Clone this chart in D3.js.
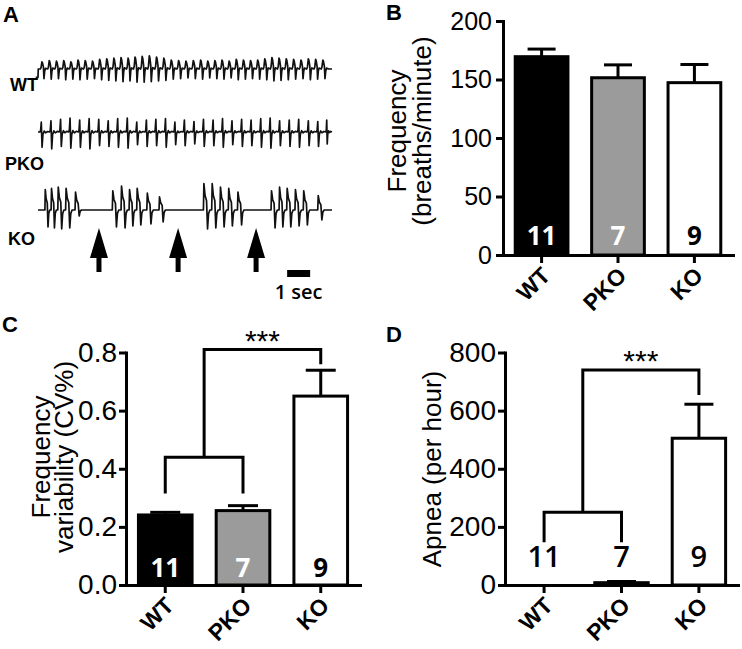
<!DOCTYPE html>
<html><head><meta charset="utf-8">
<script src="https://cdn.jsdelivr.net/npm/d3@7"></script>
<style>body{margin:0;background:#fff}svg{display:block}</style>
</head><body>
<svg id="chart" width="742" height="649"></svg>
<script>
// ---------------- DATA ----------------
const groups = ["WT", "PKO", "KO"];
const barColors = ["#000000", "#9b9b9b", "#ffffff"];
const nLabels = ["11", "7", "9"];

// B: breathing frequency (breaths/minute)
const freqMean = [169.5, 151.5, 147.3];
const freqErr = [6.5, 11.0, 15.5];
const freqTicks = [0, 50, 100, 150, 200];

// C: frequency variability (CV%)
const cvMean = [0.241, 0.256, 0.650];
const cvErr = [0.009, 0.017, 0.089];
const cvTicks = [0, 0.2, 0.4, 0.6, 0.8];
const cvBracket = [0.44, 0.315, 0.81, 0.76]; // lower bar, lower legs, top bar, right leg

// D: apnea (per hour)
const apneaMean = [0, 8, 505];
const apneaErr = [0, 4, 117];
const apneaTicks = [0, 200, 400, 600, 800];
const apneaBracket = [250, 147, 740, 654];

// A: breathing traces (time in s; peak / trough amplitudes, relative)
const traceEnd = 12.78;
const wtLeadIn = [[-0.1, -0.7], [0.0, -0.7], [0.01, 0]];
const wtTimes = [0.10,0.42,0.73,1.05,1.36,1.67,1.98,2.30,2.61,2.92,3.23,3.54,3.85,4.15,4.46,4.77,5.08,5.40,5.72,6.04,6.36,6.68,7.00,7.31,7.62,7.93,8.24,8.55,8.86,9.17,9.48,9.79,10.10,10.41,10.72,11.04,11.36,11.68,12.00,12.31];
const wtPeaks = [0.6,0.7,0.65,0.7,0.6,0.75,0.7,0.65,0.8,0.85,0.9,0.95,0.9,1.0,1.05,1.1,1.0,0.9,0.75,0.7,0.65,0.7,0.75,0.65,0.7,0.75,0.65,0.8,0.75,0.7,0.75,0.85,0.95,0.9,0.85,0.8,0.75,0.85,0.8,0.75];
const wtTroughs = [0.8,0.85,0.8,0.9,0.85,0.9,0.85,0.8,0.9,0.95,1.0,1.05,1.0,1.1,1.1,1.05,1.0,0.95,0.85,0.8,0.75,0.8,0.85,0.75,0.8,0.85,0.75,0.9,0.85,0.8,0.85,0.9,1.0,0.95,0.9,0.85,0.8,0.9,0.85,0.8];
const pkoTimes = [0.08,0.50,0.92,1.33,1.75,2.16,2.58,2.99,3.40,3.82,4.23,4.65,5.06,5.48,5.89,6.30,6.72,7.13,7.55,7.96,8.37,8.79,9.20,9.62,10.03,10.44,10.86,11.27,11.69,12.10,12.51];
const pkoPeaks = [0.7,0.8,0.9,1.0,0.85,0.95,0.9,0.8,0.95,1.0,0.7,0.85,0.9,0.95,0.7,0.85,0.75,0.9,0.85,0.95,0.8,0.9,0.85,0.95,1.0,0.8,0.85,0.9,0.8,0.75,0.85];
const pkoTroughs = [0.9,1.0,0.85,0.95,0.9,1.0,0.8,0.85,0.9,0.95,0.75,0.85,0.8,0.9,0.75,0.8,0.7,0.85,0.8,0.9,0.75,0.85,0.8,0.9,0.95,0.8,0.85,0.9,0.8,0.85,0.7];
const koTimes = [0.30,0.57,0.86,1.20,1.61, 3.23,3.61,3.96,4.29,4.73,5.26, 7.19,7.55,7.91,8.27,8.67, 10.13,10.48,10.81,11.17,11.53,12.16];
const koPeaks = [0.85,0.9,0.95,0.9,0.75, 0.8,1.0,0.85,0.9,0.7,0.55, 1.1,1.1,0.95,0.9,0.75, 0.8,0.95,0.9,0.85,0.8,0.6];
const koTroughs = [0.85,0.9,0.95,0.9,0.3, 0.85,0.9,0.8,0.75,0.7,0.6, 0.95,0.9,0.85,0.8,0.75, 0.9,0.85,0.85,0.8,0.75,0.5];
const arrowTimes = [2.65, 6.09, 9.48];
const scaleBarSec = [10.83, 11.83];

// ---------------- DRAW ----------------
const svg = d3.select("#chart");
svg.append("rect").attr("width", 742).attr("height", 649).attr("fill", "#fff");
const FONT = "'Liberation Sans', Arial, sans-serif";
const NUMFONT = "'Open Sans', 'Liberation Sans', sans-serif";

// Panel letters
[["A", 3, 22], ["B", 386, 20], ["C", 2, 332], ["D", 386, 342]].forEach(([t, x, y]) => {
  svg.append("text").text(t).attr("x", x).attr("y", y)
    .attr("font-family", FONT).attr("font-weight", "bold").attr("font-size", 22).attr("fill", "#000");
});

// ---- Panel A ----
const tScale = d3.scaleLinear().domain([0, traceEnd]).range([38, 332]);
const templates = {
  wt: [[0,0,0],[0.1,0.2,0],[0.22,1,0],[0.3,0.85,0],[0.42,0.3,0],[0.5,0,1],[0.6,0,0.2],[0.7,0.1,0],[1,0,0]],
  pko: [[0,0,0],[0.08,0.15,0],[0.15,1,0],[0.23,0,1],[0.32,0,0.15],[0.45,0.1,0],[0.6,0,0.05],[0.8,0.05,0],[1,0,0]],
  ko: [[0,0,0],[0.06,1,0],[0.2,0.55,0],[0.38,0.35,0],[0.5,0,1],[0.62,0,0.2],[0.78,0,0],[1,0,0]]
};
function buildTrace(times, peaks, troughs, tpl, maxPeriod, leadIn) {
  const pts = leadIn ? leadIn.slice() : [[0, 0]];
  times.forEach((t0, i) => {
    const next = i < times.length - 1 ? times[i + 1] : traceEnd;
    const p = Math.min(next - t0, maxPeriod);
    pts.push([t0, 0]);
    tpl.forEach(([f, pw, tw]) => pts.push([t0 + f * p, pw * peaks[i] - tw * troughs[i]]));
  });
  pts.push([traceEnd, 0]);
  return pts;
}
const traces = [
  {pts: buildTrace(wtTimes, wtPeaks, wtTroughs, templates.wt, 0.33, wtLeadIn), y: d3.scaleLinear().domain([-1, 0, 1]).range([81, 69, 57])},
  {pts: buildTrace(pkoTimes, pkoPeaks, pkoTroughs, templates.pko, 0.43), y: d3.scaleLinear().domain([-1, 0, 1]).range([149, 132, 118])},
  {pts: buildTrace(koTimes, koPeaks, koTroughs, templates.ko, 0.36), y: d3.scaleLinear().domain([-1, 0, 1]).range([230, 210, 186])}
];
traces.forEach(tr => {
  svg.append("path").datum(tr.pts)
    .attr("d", d3.line().x(d => tScale(d[0])).y(d => tr.y(d[1])))
    .attr("fill", "none").attr("stroke", "#111").attr("stroke-width", 1.7).attr("stroke-linejoin", "round");
});
[["WT", 10, 91], ["PKO", 5, 170], ["KO", 8, 245]].forEach(([t, x, y]) => {
  svg.append("text").text(t).attr("x", x).attr("y", y)
    .attr("font-family", FONT).attr("font-weight", "bold").attr("font-size", 18).attr("fill", "#000");
});
arrowTimes.forEach(t => {
  const cx = tScale(t);
  svg.append("path")
    .attr("d", `M${cx},228 L${cx + 9},258 L${cx + 2.5},258 L${cx + 2.5},272 L${cx - 2.5},272 L${cx - 2.5},258 L${cx - 9},258 Z`)
    .attr("fill", "#000");
});
svg.append("rect").attr("x", tScale(scaleBarSec[0])).attr("y", 270)
  .attr("width", tScale(scaleBarSec[1]) - tScale(scaleBarSec[0])).attr("height", 7).attr("fill", "#000");
svg.append("text").text("1 sec").attr("x", (tScale(scaleBarSec[0]) + tScale(scaleBarSec[1])) / 2).attr("y", 299)
  .attr("text-anchor", "middle").attr("font-family", NUMFONT).attr("font-weight", 600).attr("font-size", 20);

// ---- Bar panels ----
function barPanel(cfg) {
  const g = svg.append("g");
  const x = d3.scaleBand().domain(groups).range([cfg.x0, cfg.x1]).paddingInner(0.31).paddingOuter(0.16);
  const y = d3.scaleLinear().domain([0, cfg.max]).range([cfg.yBot, cfg.yTop]);
  const cx = d => x(d) + x.bandwidth() / 2;

  // bars
  g.selectAll("rect.bar").data(groups).join("rect").attr("class", "bar")
    .attr("x", d => x(d)).attr("y", (d, i) => y(cfg.means[i]))
    .attr("width", x.bandwidth()).attr("height", (d, i) => cfg.yBot - y(cfg.means[i]))
    .attr("fill", (d, i) => barColors[i]).attr("stroke", "#000").attr("stroke-width", 3);
  // error bars
  groups.forEach((d, i) => {
    if (!cfg.errs[i]) return;
    const yt = y(cfg.means[i] + cfg.errs[i]);
    g.append("line").attr("x1", cx(d)).attr("x2", cx(d)).attr("y1", y(cfg.means[i])).attr("y2", yt)
      .attr("stroke", "#000").attr("stroke-width", 3);
    g.append("line").attr("x1", cx(d) - cfg.cap / 2).attr("x2", cx(d) + cfg.cap / 2).attr("y1", yt).attr("y2", yt)
      .attr("stroke", "#000").attr("stroke-width", 3);
  });
  // n labels
  groups.forEach((d, i) => {
    g.append("text").text(nLabels[i]).attr("x", cx(d)).attr("y", cfg.nY)
      .attr("text-anchor", "middle").attr("font-family", NUMFONT)
      .attr("font-weight", cfg.nWeight).attr("font-size", cfg.nSize)
      .attr("fill", cfg.nColors[i]);
  });
  // axes
  const ya = g.append("g").attr("transform", `translate(${cfg.x0},0)`)
    .call(d3.axisLeft(y).tickValues(cfg.ticks).tickFormat(cfg.fmt).tickSize(7).tickSizeOuter(0).tickPadding(cfg.pad));
  const xa = g.append("g").attr("transform", `translate(0,${cfg.yBot})`)
    .call(d3.axisBottom(x).tickSize(8).tickSizeOuter(0));
  [ya, xa].forEach(a => {
    a.select(".domain").attr("stroke", "#000").attr("stroke-width", 3).attr("stroke-linecap", "square");
    a.selectAll(".tick line").attr("stroke", "#000").attr("stroke-width", 3);
  });
  ya.selectAll(".tick text").attr("font-family", FONT).attr("font-size", cfg.tickSize).attr("fill", "#000");
  xa.selectAll(".tick text").attr("font-family", FONT).attr("font-weight", "bold").attr("font-size", 23)
    .attr("fill", "#000").attr("text-anchor", "end").attr("x", 0).attr("y", 0).attr("dy", null)
    .attr("transform", "translate(10,22) rotate(-45)");
  // y title
  cfg.title.forEach(([t, bx]) => {
    g.append("text").text(t).attr("transform", `translate(${bx},${cfg.titleY}) rotate(-90)`)
      .attr("text-anchor", "middle").attr("font-family", FONT).attr("font-size", 26).attr("fill", "#000");
  });
  // significance bracket
  if (cfg.bracket) {
    const [lo, leg, top, rleg] = cfg.bracket;
    const xa0 = cx(groups[0]), xa1 = cx(groups[1]), xk = cx(groups[2]), mid = (xa0 + xa1) / 2;
    g.append("path").attr("d", `M${xa0},${y(leg)}V${y(lo)}H${xa1}V${y(leg)}M${mid},${y(lo)}V${y(top)}H${xk}V${y(rleg)}`)
      .attr("fill", "none").attr("stroke", "#000").attr("stroke-width", 3);
    g.append("text").text("***").attr("x", (mid + xk) / 2).attr("y", y(top) + 1)
      .attr("text-anchor", "middle").attr("font-family", FONT).attr("font-size", 30).attr("fill", "#000");
  }
}

barPanel({x0: 503, x1: 733, yTop: 21, yBot: 255, max: 200, ticks: freqTicks, fmt: d3.format("d"),
  means: freqMean, errs: freqErr, cap: 28, pad: 4, tickSize: 25,
  nY: 245, nSize: 26, nWeight: 700, nColors: ["#fff", "#fff", "#000"],
  title: [["Frequency", 406], ["(breaths/minute)", 431]], titleY: 131});

barPanel({x0: 126, x1: 360, yTop: 352.5, yBot: 585, max: 0.8, ticks: cvTicks, fmt: d3.format(".1f"),
  means: cvMean, errs: cvErr, cap: 30, pad: 2, tickSize: 28,
  nY: 577, nSize: 26, nWeight: 700, nColors: ["#fff", "#fff", "#000"],
  title: [["Frequency", 50], ["variability (CV%)", 73]], titleY: 457, bracket: cvBracket});

barPanel({x0: 505, x1: 738, yTop: 352.5, yBot: 585, max: 800, ticks: apneaTicks, fmt: d3.format("d"),
  means: apneaMean, errs: apneaErr, cap: 29, pad: 2, tickSize: 28,
  nY: 567, nSize: 29, nWeight: 600, nColors: ["#000", "#000", "#000"],
  title: [["Apnea (per hour)", 441]], titleY: 469, bracket: apneaBracket});
</script>
</body></html>
